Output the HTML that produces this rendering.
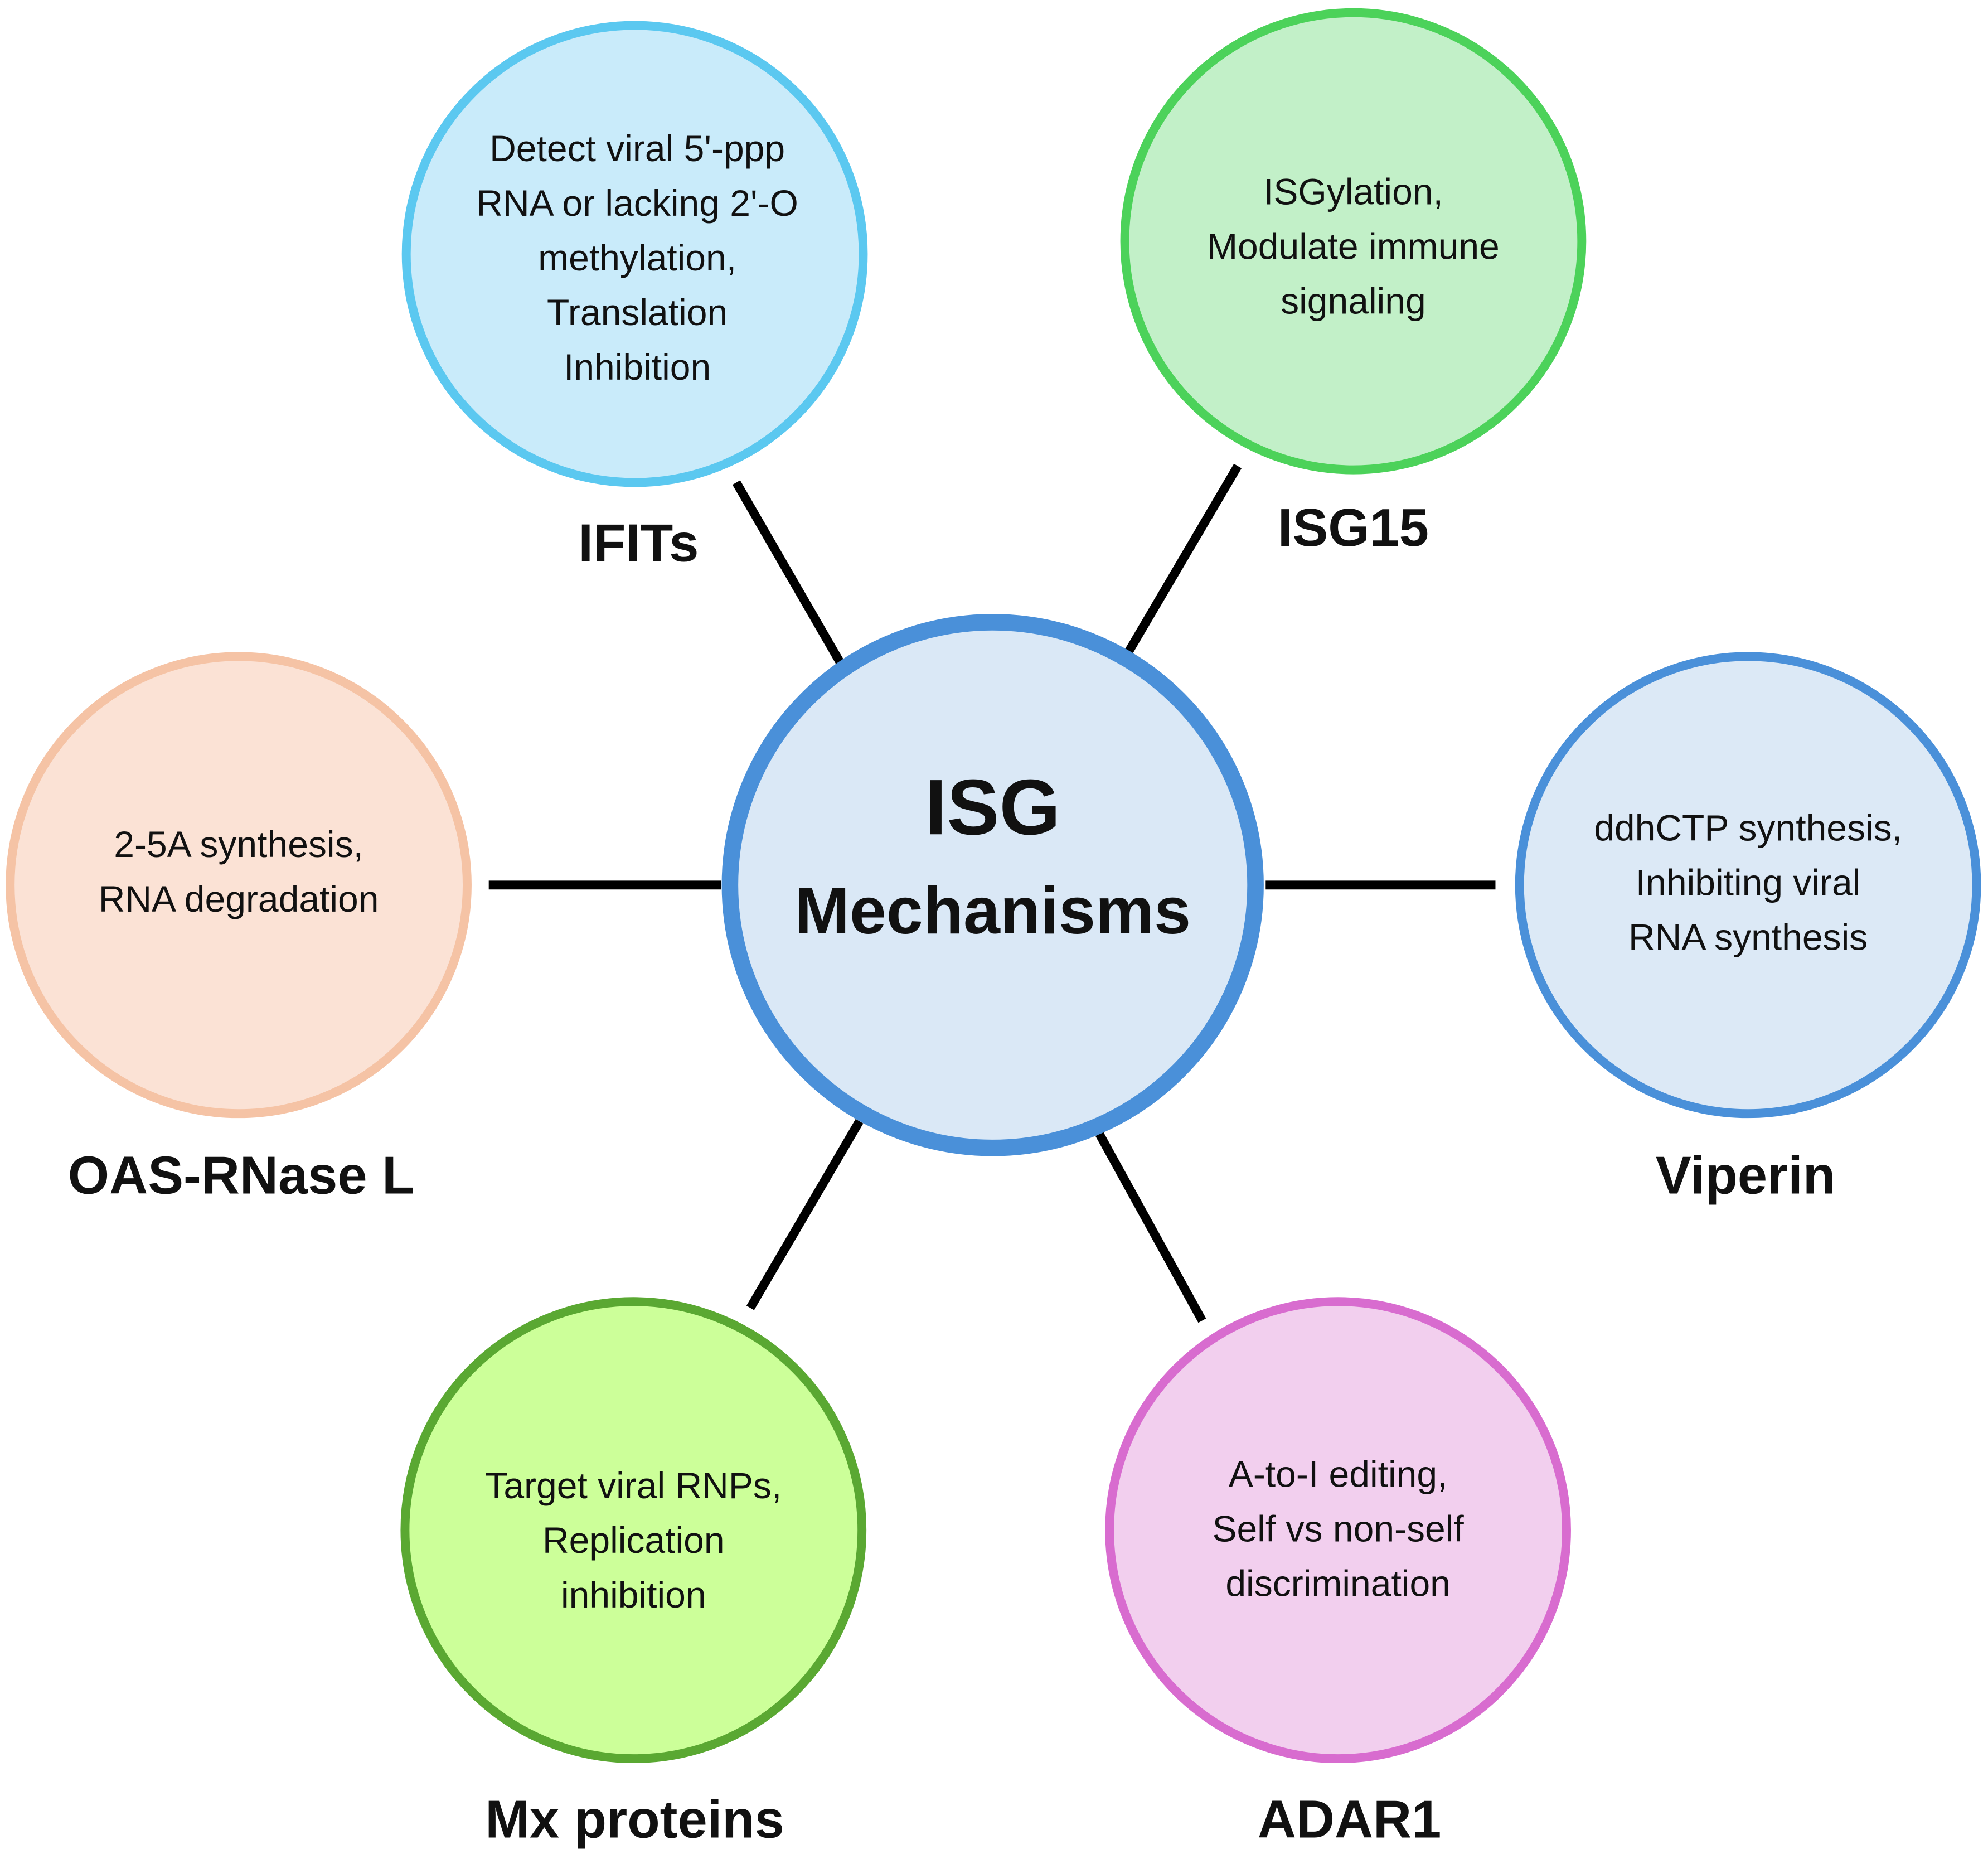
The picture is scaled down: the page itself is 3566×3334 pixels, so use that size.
<!DOCTYPE html>
<html><head><meta charset="utf-8"><style>
html,body{margin:0;padding:0;background:#fff;}
svg{display:block;}
text{font-family:"Liberation Sans",sans-serif;fill:#111;text-anchor:middle;}
.b{font-size:29px;}
.l{font-size:42px;font-weight:bold;}
</style></head><body>
<svg width="3566" height="3334" viewBox="0 0 1566 1464" preserveAspectRatio="none" xmlns="http://www.w3.org/2000/svg">
<rect width="1566" height="1464" fill="#fff"/>
<g stroke="#000" stroke-width="7">
<line x1="580" y1="380" x2="662" y2="522"/>
<line x1="975" y1="367" x2="888" y2="515"/>
<line x1="385" y1="697" x2="568" y2="697"/>
<line x1="997" y1="697" x2="1178" y2="697"/>
<line x1="677" y1="883" x2="591" y2="1030"/>
<line x1="866" y1="893" x2="947" y2="1040"/>
</g>
<circle cx="500" cy="200" r="180" fill="#c9ebfa" stroke="#5bc8f0" stroke-width="7"/>
<circle cx="1066" cy="190" r="180" fill="#c2f0c8" stroke="#4cd25a" stroke-width="7"/>
<circle cx="188" cy="697" r="180" fill="#fbe2d5" stroke="#f5c3a5" stroke-width="7"/>
<circle cx="1377" cy="697" r="180" fill="#dce9f6" stroke="#4a90d9" stroke-width="7"/>
<circle cx="499" cy="1205" r="180" fill="#ccff99" stroke="#5aa832" stroke-width="7"/>
<circle cx="1054" cy="1205" r="180" fill="#f2cfee" stroke="#d86ccf" stroke-width="7"/>
<circle cx="782" cy="697" r="207" fill="#dae8f6" stroke="#4a90d9" stroke-width="13"/>
<text x="782" y="657" style="font-size:62px;font-weight:bold">ISG</text>
<text x="782" y="735" style="font-size:52px;font-weight:bold">Mechanisms</text>
<g class="b">
<text x="502" y="127">Detect viral 5'-ppp</text>
<text x="502" y="170">RNA or lacking 2'-O</text>
<text x="502" y="213">methylation,</text>
<text x="502" y="256">Translation</text>
<text x="502" y="299">Inhibition</text>
<text x="1066" y="161">ISGylation,</text>
<text x="1066" y="204">Modulate immune</text>
<text x="1066" y="247">signaling</text>
<text x="188" y="675">2-5A synthesis,</text>
<text x="188" y="718">RNA degradation</text>
<text x="1377" y="662">ddhCTP synthesis,</text>
<text x="1377" y="705">Inhibiting viral</text>
<text x="1377" y="748">RNA synthesis</text>
<text x="499" y="1180">Target viral RNPs,</text>
<text x="499" y="1223">Replication</text>
<text x="499" y="1266">inhibition</text>
<text x="1054" y="1171">A-to-I editing,</text>
<text x="1054" y="1214">Self vs non-self</text>
<text x="1054" y="1257">discrimination</text>
</g>
<g class="l">
<text x="503" y="442">IFITs</text>
<text x="1066" y="430">ISG15</text>
<text x="190" y="940">OAS-RNase L</text>
<text x="1375" y="940">Viperin</text>
<text x="500" y="1447">Mx proteins</text>
<text x="1063" y="1447">ADAR1</text>
</g>
</svg>
</body></html>
